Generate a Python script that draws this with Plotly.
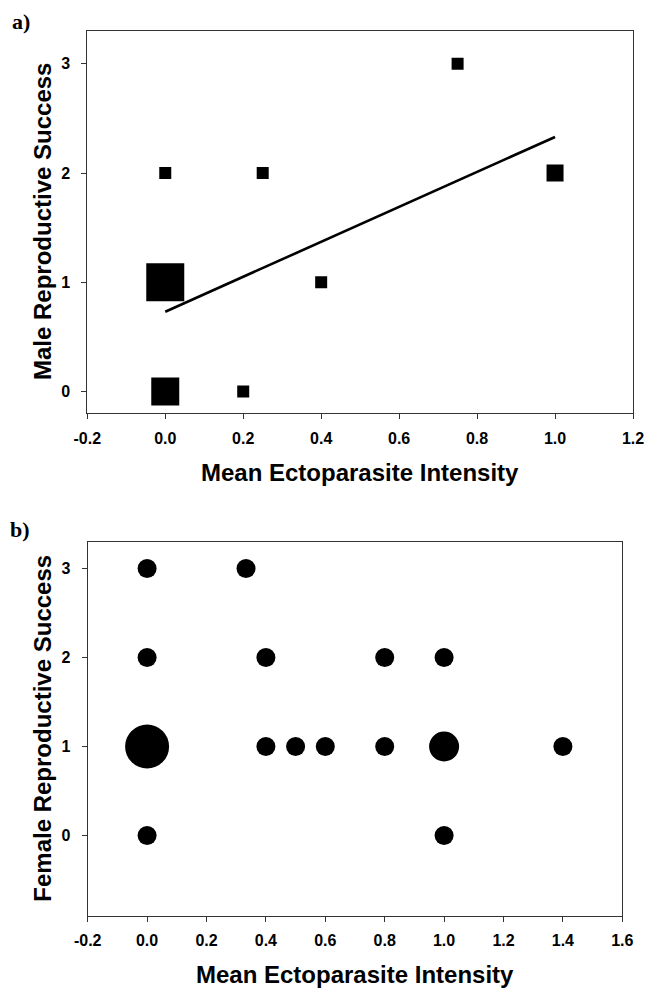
import plotly.graph_objects as go

# ---- Panel a: males ----
male_x = [0.0, 0.25, 0.75, 1.0, 0.0, 0.4, 0.0, 0.2]
male_y = [2, 2, 3, 2, 1, 1, 0, 0]
male_size = [12, 12, 12, 17, 38, 12, 28, 12]

fit_x = [0.0, 1.0]
fit_y = [0.73, 2.33]

# ---- Panel b: females ----
female_x = [0.0, 0.333, 0.0, 0.4, 0.8, 1.0, 0.0, 0.4, 0.5, 0.6, 0.8, 1.0, 1.4, 0.0, 1.0]
female_y = [3, 3, 2, 2, 2, 2, 1, 1, 1, 1, 1, 1, 1, 0, 0]
female_size = [19, 19, 19, 19, 19, 19, 44, 19, 19, 19, 19, 30, 19, 19, 19]

xticks_a = [-0.2, 0.0, 0.2, 0.4, 0.6, 0.8, 1.0, 1.2]
xticks_b = [-0.2, 0.0, 0.2, 0.4, 0.6, 0.8, 1.0, 1.2, 1.4, 1.6]
yticks = [0, 1, 2, 3]

W, H = 649, 988
FONT = "Liberation Sans"

fig = go.Figure()
fig.add_trace(go.Scatter(x=male_x, y=male_y, mode="markers",
                         marker=dict(symbol="square", size=male_size, color="black",
                                     opacity=1, line=dict(width=0)),
                         xaxis="x", yaxis="y", showlegend=False))
fig.add_trace(go.Scatter(x=fit_x, y=fit_y, mode="lines",
                         line=dict(color="black", width=2.6),
                         xaxis="x", yaxis="y", showlegend=False))
fig.add_trace(go.Scatter(x=female_x, y=female_y, mode="markers",
                         marker=dict(symbol="circle", size=female_size, color="black",
                                     opacity=1, line=dict(width=0)),
                         xaxis="x2", yaxis="y2", showlegend=False))

def px_x(p):
    return p / W

def px_y(p):
    return 1 - p / H

axis_common = dict(showgrid=False, zeroline=False, showline=True, linecolor="#333333",
                   linewidth=1, mirror=True, ticks="outside", ticklen=5, tickwidth=1,
                   tickcolor="#333333", automargin=False,
                   tickfont=dict(family=FONT, size=16, color="black", weight="bold"))

fig.update_layout(
    width=W, height=H, autosize=False,
    margin=dict(l=0, r=0, t=0, b=0, pad=0, autoexpand=False),
    paper_bgcolor="white", plot_bgcolor="white",
    xaxis=dict(domain=[px_x(87.3), px_x(633)], range=[-0.2, 1.2],
               tickvals=xticks_a, ticktext=[f"{v:.1f}" for v in xticks_a],
               anchor="y", ticklabelstandoff=5, **axis_common),
    yaxis=dict(domain=[px_y(413.3), px_y(31)], range=[-0.2, 3.3],
               tickvals=yticks, ticktext=[str(v) for v in yticks],
               anchor="x", ticklabelstandoff=8, **axis_common),
    xaxis2=dict(domain=[px_x(87.7), px_x(622.3)], range=[-0.2, 1.6],
                tickvals=xticks_b, ticktext=[f"{v:.1f}" for v in xticks_b],
                anchor="y2", ticklabelstandoff=5, **axis_common),
    yaxis2=dict(domain=[px_y(915.7), px_y(541.7)], range=[-0.9, 3.3],
                tickvals=yticks, ticktext=[str(v) for v in yticks],
                anchor="x2", ticklabelstandoff=8, **axis_common),
)

title_font = dict(family=FONT, size=24, color="black", weight="bold")
panel_font = dict(family="Liberation Serif", size=22, color="black", weight="bold")

ann = [
    dict(text="a)", x=px_x(21), y=px_y(21), font=panel_font),
    dict(text="b)", x=px_x(20), y=px_y(529), font=panel_font),
    dict(text="Mean Ectoparasite Intensity", x=px_x(360), y=px_y(472), font=title_font),
    dict(text="Mean Ectoparasite Intensity", x=px_x(355), y=px_y(974), font=title_font),
    dict(text="Male Reproductive Success", x=px_x(42), y=px_y(222), font=title_font,
         textangle=-90),
    dict(text="Female Reproductive Success", x=px_x(43), y=px_y(728.7), font=title_font,
         textangle=-90),
]
for a in ann:
    a.update(xref="paper", yref="paper", showarrow=False, xanchor="center", yanchor="middle")
    fig.add_annotation(**a)

fig.write_html("out.html", config={"displayModeBar": False},
               post_script="document.body.style.margin='0';document.body.style.overflow='hidden';")
